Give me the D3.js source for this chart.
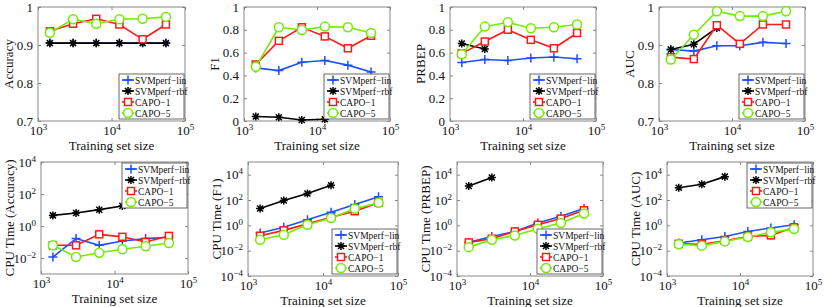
<!DOCTYPE html>
<html>
<head>
<meta charset="utf-8">
<script src="https://cdn.jsdelivr.net/npm/d3@7"></script>
<style>
body { margin: 0; background: #fff; }
text { font-family: "Liberation Serif", "Times New Roman", serif; fill: #111; }
</style>
</head>
<body>
<script>
// training set sizes (x values)
var sizes = [1450, 3000, 6200, 12800, 26500, 55000];
var seriesNames = ["SVMperf\u2212lin", "SVMperf\u2212rbf", "CAPO\u22121", "CAPO\u22125"];
var xTicks = [1e3, 1e4, 1e5];

/* performance */
var accLin   = [0.905, 0.905, 0.905, 0.905, 0.905, 0.905];
var accRbf   = [0.905, 0.905, 0.905, 0.905, 0.905, 0.905];
var accCapo1 = [0.936, 0.956, 0.969, 0.954, 0.915, 0.954];
var accCapo5 = [0.932, 0.968, 0.956, 0.968, 0.969, 0.974];

var f1Lin   = [0.466, 0.442, 0.516, 0.531, 0.49, 0.43];
var f1Rbf   = [0.039, 0.033, 0.009, 0.015];
var f1Capo1 = [0.496, 0.703, 0.822, 0.742, 0.638, 0.748];
var f1Capo5 = [0.475, 0.822, 0.798, 0.828, 0.822, 0.772];

var prLin   = [0.513, 0.540, 0.531, 0.552, 0.561, 0.546];
var prRbf   = [0.68, 0.632];
var prCapo1 = [0.593, 0.697, 0.801, 0.712, 0.638, 0.772];
var prCapo5 = [0.585, 0.828, 0.866, 0.813, 0.822, 0.846];

var aucLin   = [0.888, 0.884, 0.898, 0.898, 0.907, 0.904];
var aucRbf   = [0.888, 0.902, 0.945];
var aucCapo1 = [0.868, 0.863, 0.952, 0.903, 0.954, 0.954];
var aucCapo5 = [0.862, 0.927, 0.989, 0.976, 0.976, 0.989];

/* cpu time */
var tAccLin   = [0.0115, 0.163, 0.062, 0.115, 0.163, 0.2];
var tAccRbf   = [4.6, 6.5, 10.5, 17.8];
var tAccCapo1 = [0.062, 0.062, 0.30, 0.21, 0.1, 0.24];
var tAccCapo5 = [0.062, 0.0115, 0.0215, 0.035, 0.054, 0.087];

var tF1Lin   = [0.25, 0.7, 2.8, 10.7, 44, 180];
var tF1Rbf   = [21, 91, 330, 1440];
var tF1Capo1 = [0.15, 0.4, 1.3, 4.4, 13, 60];
var tF1Capo5 = [0.072, 0.18, 1.1, 3.8, 20, 60];

var tPrLin   = [0.045, 0.13, 0.33, 1.5, 5.2, 21];
var tPrRbf   = [1260, 5900];
var tPrCapo1 = [0.045, 0.087, 0.33, 1.1, 3.4, 15.5];
var tPrCapo5 = [0.019, 0.072, 0.16, 0.54, 1.5, 8.5];

var tAucLin   = [0.04, 0.072, 0.13, 0.33, 0.62, 1.1];
var tAucRbf   = [930, 1740, 7000];
var tAucCapo1 = [0.035, 0.032, 0.06, 0.13, 0.16, 0.7];
var tAucCapo5 = [0.032, 0.025, 0.054, 0.12, 0.28, 0.51];

var colors = ["#1f4fff", "#000000", "#ff1a1a", "#72ec00"];
var markers = ["plus", "star", "square", "circle"];

// panel layout
var panels = [
  {label: "Accuracy", series: [accLin, accRbf, accCapo1, accCapo5], dom: [0.7, 1], ticks: [0.7, 0.8, 0.9, 1], box: [38, 185, 7, 121], leg: "se"},
  {label: "F1", series: [f1Lin, f1Rbf, f1Capo1, f1Capo5], dom: [0, 1], ticks: [0, 0.2, 0.4, 0.6, 0.8, 1], box: [244, 390, 7, 121], leg: "se"},
  {label: "PRBEP", series: [prLin, prRbf, prCapo1, prCapo5], dom: [0, 1], ticks: [0, 0.2, 0.4, 0.6, 0.8, 1], box: [450, 596, 7, 121], leg: "se"},
  {label: "AUC", series: [aucLin, aucRbf, aucCapo1, aucCapo5], dom: [0.7, 1], ticks: [0.7, 0.8, 0.9, 1], box: [659, 805, 7, 121], leg: "se"},
  {label: "CPU Time (Accuracy)", log: true, series: [tAccLin, tAccRbf, tAccCapo1, tAccCapo5], dom: [1e-3, 1e4], ticks: [1e-2, 1e0, 1e2, 1e4], box: [41, 188, 162, 274], leg: "ne"},
  {label: "CPU Time (F1)", log: true, series: [tF1Lin, tF1Rbf, tF1Capo1, tF1Capo5], dom: [1e-4, 1e5], ticks: [1e-4, 1e-2, 1e0, 1e2, 1e4], box: [248, 398, 162, 276], leg: "se"},
  {label: "CPU Time (PRBEP)", log: true, series: [tPrLin, tPrRbf, tPrCapo1, tPrCapo5], dom: [1e-4, 1e5], ticks: [1e-4, 1e-2, 1e0, 1e2, 1e4], box: [457, 603, 162, 276], leg: "se"},
  {label: "CPU Time (AUC)", log: true, series: [tAucLin, tAucRbf, tAucCapo1, tAucCapo5], dom: [1e-4, 1e5], ticks: [1e-4, 1e-2, 1e0, 1e2, 1e4], box: [667, 813, 162, 276], leg: "ne"}
];

var svg = d3.select("body").append("svg")
  .attr("width", 830)
  .attr("height", 307);

function drawMarker(sel, type, color) {
  if (type == "plus") {
    sel.append("path").attr("d", "M-4.5,0H4.5M0,-4.5V4.5")
      .attr("stroke", color).attr("stroke-width", 1.5).attr("fill", "none");
  } else if (type == "star") {
    sel.append("path").attr("d", "M-4,0H4M0,-4V4M-3,-3L3,3M-3,3L3,-3")
      .attr("stroke", color).attr("stroke-width", 1.5).attr("fill", "none");
  } else if (type == "square") {
    sel.append("rect").attr("x", -3.5).attr("y", -3.5).attr("width", 7).attr("height", 7)
      .attr("stroke", color).attr("stroke-width", 1.5).attr("fill", "#fff");
  } else {
    sel.append("circle").attr("r", 4.5)
      .attr("stroke", color).attr("stroke-width", 1.5).attr("fill", "#fff");
  }
}

function supLabel(sel) {
  sel.each(function(d) {
    var t = d3.select(this);
    var e = Math.round(Math.log10(d));
    t.text("10");
    t.append("tspan").attr("dy", "-0.55em").attr("font-size", "9px").text(e < 0 ? "\u2212" + (-e) : e);
  });
}

panels.forEach(function(p) {
  var x0 = p.box[0], x1 = p.box[1], y0 = p.box[2], y1 = p.box[3];
  var g = svg.append("g");

  var xScale = d3.scaleLog().domain([1e3, 1e5]).range([x0, x1]);
  var yScale = (p.log ? d3.scaleLog() : d3.scaleLinear()).domain(p.dom).range([y1, y0]);

  /*Axes*/
  var xAxis = d3.axisBottom(xScale).tickValues(xTicks).tickSizeInner(-3).tickSizeOuter(0).tickPadding(5);
  var yAxis = d3.axisLeft(yScale).tickValues(p.ticks).tickSizeInner(-3).tickSizeOuter(0).tickPadding(5);
  if (!p.log) yAxis.tickFormat(function(d) { return (d == 0 || d == 1) ? String(d) : d.toFixed(1); });

  var gx = g.append("g").attr("transform", "translate(0," + y1 + ")").call(xAxis);
  supLabel(gx.selectAll(".tick text"));
  var gy = g.append("g").attr("transform", "translate(" + x0 + ",0)").call(yAxis);
  if (p.log) supLabel(gy.selectAll(".tick text"));

  g.append("g").attr("transform", "translate(0," + y0 + ")")
    .call(d3.axisTop(xScale).tickValues(xTicks).tickSizeInner(-3).tickSizeOuter(0).tickFormat(""));
  g.append("g").attr("transform", "translate(" + x1 + ",0)")
    .call(d3.axisRight(yScale).tickValues(p.ticks).tickSizeInner(-3).tickSizeOuter(0).tickFormat(""));

  g.selectAll(".domain").remove();
  g.selectAll(".tick line").attr("stroke", "#888");
  g.selectAll(".tick text").attr("font-size", "13px").attr("fill", "#111")
    .style("font-family", "'Liberation Serif', serif");

  g.append("rect")
    .attr("x", x0).attr("y", y0)
    .attr("width", x1 - x0).attr("height", y1 - y0)
    .attr("fill", "none").attr("stroke", "#888").attr("stroke-width", 1);

  /*Lines and markers*/
  var line = d3.line()
    .x(function(d, i) { return xScale(sizes[i]); })
    .y(function(d) { return yScale(d); });

  p.series.forEach(function(vals, s) {
    g.append("path")
      .attr("d", line(vals))
      .attr("fill", "none")
      .attr("stroke", colors[s])
      .attr("stroke-width", 1.6);
    vals.forEach(function(v, i) {
      var m = g.append("g").attr("transform", "translate(" + xScale(sizes[i]) + "," + yScale(v) + ")");
      drawMarker(m, markers[s], colors[s]);
    });
  });

  /*Axis labels*/
  g.append("text")
    .attr("x", (x0 + x1) / 2).attr("y", y1 + 29)
    .attr("text-anchor", "middle").attr("font-size", "13px")
    .text("Training set size");
  var lxOff = p.log ? 27 : 25;
  g.append("text")
    .attr("transform", "translate(" + (x0 - lxOff) + "," + ((y0 + y1) / 2) + ") rotate(-90)")
    .attr("text-anchor", "middle").attr("font-size", "13px")
    .text(p.label);

  /*Legend*/
  var lw = 65, lh = 45;
  var lx = x1 - lw - 1;
  var ly = p.leg == "ne" ? y0 + 1 : y1 - lh - 2;
  var lg = g.append("g").attr("transform", "translate(" + lx + "," + ly + ")");
  lg.append("rect").attr("width", lw).attr("height", lh)
    .attr("fill", "#fff").attr("stroke", "#444").attr("stroke-width", 0.8);
  seriesNames.forEach(function(name, s) {
    var cy = 6 + s * 11;
    lg.append("line").attr("x1", 3).attr("x2", 15).attr("y1", cy).attr("y2", cy)
      .attr("stroke", colors[s]).attr("stroke-width", 1.6);
    var m = lg.append("g").attr("transform", "translate(9," + cy + ")");
    drawMarker(m, markers[s], colors[s]);
    lg.append("text").attr("x", 16).attr("y", cy + 3.5)
      .attr("font-size", "9.5px").text(name);
  });
});
</script>
</body>
</html>
